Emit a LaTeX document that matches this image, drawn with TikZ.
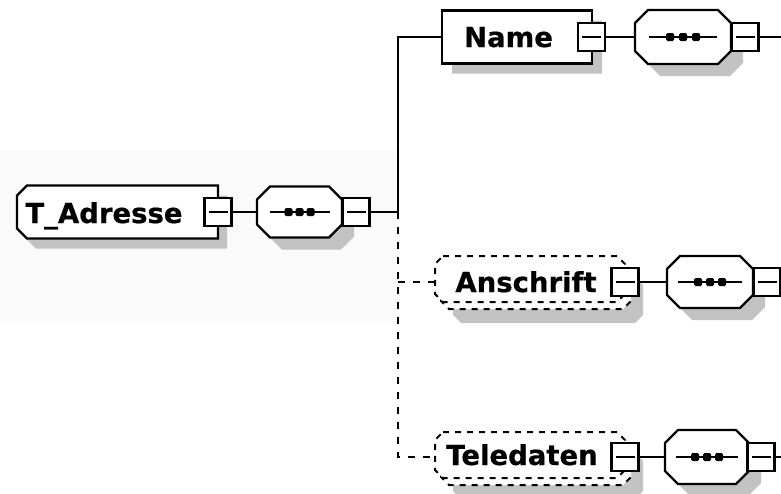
\documentclass[tikz,border=0pt]{standalone}
\usepackage{fontspec}
\newfontfamily\lblfont{DejaVu Sans}[BoldFeatures={FakeBold=0.6}]
\usetikzlibrary{calc}
\pgfdeclarelayer{bg}
\pgfsetlayers{bg,main}
\definecolor{shadowgray}{HTML}{C2C2C2}
\definecolor{bggray}{HTML}{FAFAFA}
% #1 node, #2..#5 chamfers NW NE SE SW, #6 #7 offset, #8 style
\newcommand\chamf[8]{%
 \path[#8]
 ($(#1.north west)+(#2+#6,#7)$) --
 ($(#1.north east)+(-#3+#6,#7)$) --
 ($(#1.north east)+(#6,#3+#7)$) --
 ($(#1.south east)+(#6,-#4+#7)$) --
 ($(#1.south east)+(-#4+#6,#7)$) --
 ($(#1.south west)+(#5+#6,#7)$) --
 ($(#1.south west)+(#6,-#5+#7)$) --
 ($(#1.north west)+(#6,#2+#7)$) -- cycle;}
% #1 node, #2 half length, #3 spacing
\newcommand\seqdots[3]{%
 \draw[conn] ($(#1.center)+(-#2,0)$) -- ($(#1.center)+(#2,0)$);
 \foreach \d in {-#3,0,#3}{
  \fill[rounded corners=1.5pt] ($(#1.center)+(\d-4,-4)$) rectangle ($(#1.center)+(\d+4,4)$);}}
\begin{document}
\begin{tikzpicture}[x=1pt,y=-1pt,line width=2.2pt,
 every node/.style={inner sep=0pt,outer sep=0pt},
 boxnode/.style={draw=none,rectangle},
 minus/.style={draw,fill=white,rectangle,minimum width=27pt,minimum height=28pt,line width=2.1pt,
   path picture={\draw[line width=2pt] ([xshift=4pt]path picture bounding box.west) -- ([xshift=-4pt]path picture bounding box.east);}},
 lbl/.style={font=\lblfont\bfseries\fontsize{27.5}{32}\selectfont,anchor=base},
 conn/.style={line width=2.2pt},
 optconn/.style={line width=2.2pt,dash pattern=on 7pt off 8pt},
 optbox/.style={draw,fill=white,line width=2pt,dash pattern=on 6pt off 6pt},
 solidbox/.style={draw,fill=white,line width=2.2pt},
 shadowfill/.style={fill=shadowgray,draw=none}]
\useasboundingbox (0,0) rectangle (781,493);

% T_Adresse row
\node[boxnode,minimum width=201pt,minimum height=53pt] (ta) at (117.5,212) {};
\node[lbl] (ta-l) at (104,223) {T\_Adresse};
\node[minus] (ta-m) at (218,212) {};
\node[boxnode,minimum width=85pt,minimum height=51pt] (s1) at (299.5,212) {};
\node[minus] (s1-m) at (356,212) {};
\coordinate (bus) at (398,212);

% Name row
\node[boxnode,minimum width=150pt,minimum height=53pt] (nm) at (517,37) {};
\node[lbl] (nm-l) at (508.5,47) {Name};
\node[minus] (nm-m) at (591.5,37) {};
\node[boxnode,minimum width=96pt,minimum height=54pt] (s2) at (683,37) {};
\node[minus] (s2-m) at (745,37) {};
\coordinate (e2) at (781,37);

% Anschrift row
\node[boxnode,minimum width=190pt,minimum height=46pt] (an) at (530,279) {};
\node[lbl] (an-l) at (526,292) {Anschrift};
\node[minus] (an-m) at (625,282) {};
\node[boxnode,minimum width=86pt,minimum height=52pt] (s3) at (710,282) {};
\node[minus] (s3-m) at (767,282) {};

% Teledaten row
\node[boxnode,minimum width=190pt,minimum height=46pt] (te) at (530,455) {};
\node[lbl] (te-l) at (522,465) {Teledaten};
\node[minus] (te-m) at (625,457) {};
\node[boxnode,minimum width=84pt,minimum height=54pt] (s4) at (707,457) {};
\node[minus] (s4-m) at (761,457) {};
\coordinate (e4) at (781,457);

\begin{pgfonlayer}{bg}
 \fill[bggray] (0,150) rectangle (400,323);
 % shadows
 \chamf{ta}{10}{0}{0}{10}{9}{10}{shadowfill}
 \chamf{s1}{13}{13}{13}{13}{12}{12}{shadowfill}
 \chamf{nm}{0}{0}{0}{0}{10}{10}{shadowfill}
 \chamf{s2}{13}{13}{13}{13}{12}{12}{shadowfill}
 \chamf{an}{8}{8}{8}{8}{18}{21}{shadowfill}
 \chamf{s3}{13}{13}{13}{13}{12}{12}{shadowfill}
 \chamf{te}{8}{8}{8}{8}{18}{21}{shadowfill}
 \chamf{s4}{13}{13}{13}{13}{12}{12}{shadowfill}
 % shapes
 \chamf{ta}{10}{0}{0}{10}{0}{0}{solidbox}
 \chamf{s1}{13}{13}{13}{13}{0}{0}{solidbox}
 \chamf{nm}{0}{0}{0}{0}{0}{0}{solidbox}
 \chamf{s2}{13}{13}{13}{13}{0}{0}{solidbox}
 \chamf{an}{8}{8}{8}{8}{6}{7}{optbox}
 \chamf{an}{8}{8}{8}{8}{0}{0}{optbox}
 \chamf{s3}{13}{13}{13}{13}{0}{0}{solidbox}
 \chamf{te}{8}{8}{8}{8}{6}{7}{optbox}
 \chamf{te}{8}{8}{8}{8}{0}{0}{optbox}
 \chamf{s4}{13}{13}{13}{13}{0}{0}{solidbox}
\end{pgfonlayer}

\seqdots{s1}{30}{11}
\seqdots{s2}{34}{13}
\seqdots{s3}{32}{12}
\seqdots{s4}{31}{12}

% connectors
\draw[conn] (ta-m.east) -- (s1.west);
\draw[conn] (s1-m.east) -- (bus);
\draw[conn] (bus) |- (nm.west);
\draw[optconn] (bus) -- (bus |- te-m) -- (te.west |- te-m);
\draw[optconn] (bus |- an-m) -- (an.west |- an-m);
\draw[conn] (nm-m.east) -- (s2.west);
\draw[conn] (s2-m.east) -- (e2);
\draw[conn] (an-m.east) -- (s3.west);
\draw[conn] (te-m.east) -- (s4.west);
\draw[conn] (s4-m.east) -- (e4);
\end{tikzpicture}
\end{document}
